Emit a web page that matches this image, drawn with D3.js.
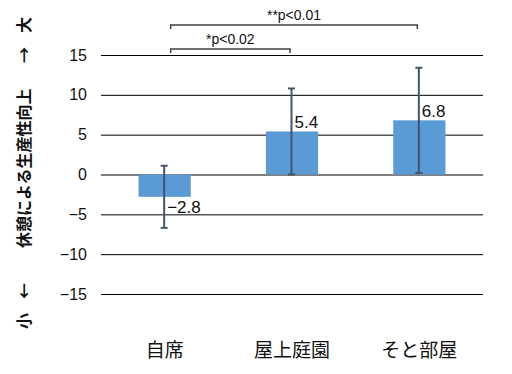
<!DOCTYPE html>
<html>
<head>
<meta charset="utf-8">
<script src="https://cdn.jsdelivr.net/npm/d3@7"></script>
<style>
  body { margin: 0; background: #fff; }
  text { font-family: "Liberation Sans", Arial, sans-serif; }
  .jp { font-family: "Noto Sans CJK JP", sans-serif; }
</style>
</head>
<body>
<script>
'use strict';

var categories = ["自席", "屋上庭園", "そと部屋"];
var values = [-2.8, 5.4, 6.8];
var errors = [3.9, 5.4, 6.6];
var labels = ["−2.8", "5.4", "6.8"];
var yTicks = [-15, -10, -5, 0, 5, 10, 15];
// significance brackets: from category, to category, label
var sigFrom = ["自席", "自席"];
var sigTo = ["屋上庭園", "そと部屋"];
var sigText = ["*p<0.02", "**p<0.01"];
// y title pieces, bottom to top
var titleParts = ["小", "←", "休憩による生産性向上", "→", "大"];

var width = 512, height = 374;
var margin = {top: 55, right: 29, bottom: 80, left: 101};
var w = width - margin.left - margin.right;
var h = height - margin.top - margin.bottom;

var svg = d3.select("body").append("svg")
  .attr("width", width)
  .attr("height", height);

var g = svg.append("g").attr("transform", "translate(" + margin.left + "," + margin.top + ")");

var x = d3.scaleBand()
  .domain(categories)
  .range([0, w])
  .paddingInner(0.59)
  .paddingOuter(0.295);

var y = d3.scaleLinear()
  .domain([-15, 15])
  .range([h, 0]);

//gridlines + tick labels
var yAxis = g.append("g")
  .call(d3.axisLeft(y).tickValues(yTicks).tickSize(-w).tickPadding(14)
    .tickFormat(function(d) { return d < 0 ? "−" + Math.abs(d) : d; }));
yAxis.select(".domain").remove();
yAxis.selectAll(".tick line").attr("stroke", "#000").attr("stroke-width", 1);
yAxis.selectAll(".tick text")
  .attr("font-size", 16)
  .attr("font-family", "Liberation Sans, Arial, sans-serif")
  .attr("fill", "#111");

//bars
g.selectAll(".bar")
  .data(values)
  .enter().append("rect")
  .attr("x", function(d, i) { return x(categories[i]); })
  .attr("y", function(d) { return y(Math.max(0, d)); })
  .attr("width", x.bandwidth())
  .attr("height", function(d) { return Math.abs(y(d) - y(0)); })
  .attr("fill", "#5b9bd5");

//error bars
var cx = function(i) { return x(categories[i]) + x.bandwidth() / 2 - 0.5; };
var eb = g.append("g").attr("stroke", "#44546a").attr("stroke-width", 2);
values.forEach(function(v, i) {
  var hi = y(v + errors[i]), lo = y(v - errors[i]);
  eb.append("line").attr("x1", cx(i)).attr("x2", cx(i)).attr("y1", hi).attr("y2", lo);
  eb.append("line").attr("x1", cx(i) - 3.5).attr("x2", cx(i) + 3.5).attr("y1", hi).attr("y2", hi);
  eb.append("line").attr("x1", cx(i) - 3.5).attr("x2", cx(i) + 3.5).attr("y1", lo).attr("y2", lo);
});

//value labels
g.selectAll(".val")
  .data(values)
  .enter().append("text")
  .attr("x", function(d, i) { return cx(i) + 3; })
  .attr("y", function(d) { return d < 0 ? y(d) + 16 : y(d) - 3; })
  .attr("font-size", 17)
  .attr("fill", "#111")
  .text(function(d, i) { return labels[i]; });

//category labels
g.selectAll(".cat")
  .data(categories)
  .enter().append("text")
  .attr("class", "jp")
  .attr("x", function(d) { return x(d) + x.bandwidth() / 2; })
  .attr("y", h + 63)
  .attr("text-anchor", "middle")
  .attr("font-size", 19)
  .attr("fill", "#111")
  .text(function(d) { return d; });

//significance brackets
var bracketY = [49 - margin.top, 25 - margin.top];
sigText.forEach(function(t, i) {
  var x1 = x(sigFrom[i]) + x.bandwidth() / 2 + 6;
  var x2 = x(sigTo[i]) + x.bandwidth() / 2 - 2;
  var by = bracketY[i];
  g.append("path")
    .attr("d", "M" + x1 + "," + (by + 4) + "V" + by + "H" + x2 + "V" + (by + 4))
    .attr("fill", "none")
    .attr("stroke", "#404040")
    .attr("stroke-width", 1.5);
  g.append("text")
    .attr("x", (x1 + x2) / 2)
    .attr("y", by - 5)
    .attr("text-anchor", "middle")
    .attr("font-size", 14)
    .attr("fill", "#111")
    .text(t);
});

//y title, pieces spread along the axis
var titlePos = [-329, -299, -248, -63, -33];
var title = svg.append("text")
  .attr("class", "jp")
  .attr("transform", "translate(30,0) rotate(-90)")
  .attr("font-size", 16)
  .attr("font-weight", "bold")
  .attr("fill", "#111");
title.selectAll("tspan")
  .data(titleParts)
  .enter().append("tspan")
  .attr("x", function(d, i) { return titlePos[i]; })
  .text(function(d) { return d; });
</script>
</body>
</html>
